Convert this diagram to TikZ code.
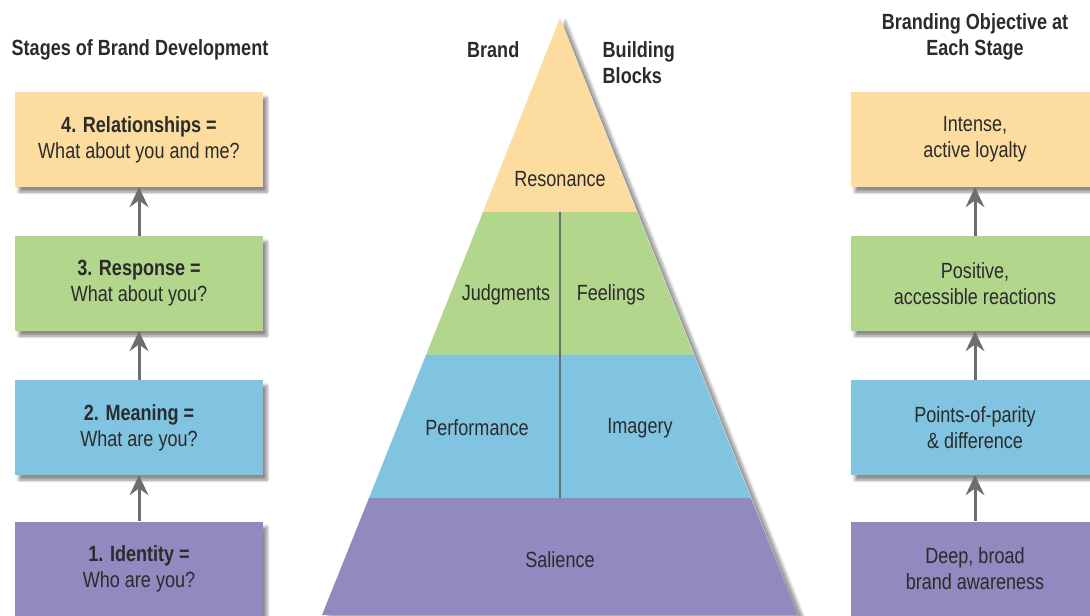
\documentclass[tikz,border=0pt]{standalone}
\usepackage{fontspec}
\setmainfont[FakeStretch=0.82]{Liberation Sans}
\usepackage{tikz}
\usetikzlibrary{arrows.meta,shadows.blur}
\definecolor{lvorange}{HTML}{FDDC9F}
\definecolor{lvgreen}{HTML}{B1D68C}
\definecolor{lvblue}{HTML}{80C4E2}
\definecolor{lvpurple}{HTML}{9189BF}
\definecolor{arrgray}{HTML}{6D6E70}
\definecolor{txtgray}{HTML}{2B2B2B}

\begin{document}
\begin{tikzpicture}
[x=0.75pt,y=-0.75pt,
every node/.style={text=txtgray,font=\fontsize{16.5}{19.5}\selectfont,align=center},
stage/.style={minimum width=186pt,minimum height=71pt,inner sep=0pt,
blur shadow={shadow xshift=3pt,shadow yshift=-4pt,shadow opacity=45,shadow blur steps=6}},
head/.style={font=\fontsize{16.5}{19.5}\selectfont\bfseries},
up/.style={draw=arrgray,line width=2.25pt,-{Stealth[length=15pt,width=14pt,inset=5pt]}}]
\useasboundingbox (0,0) rectangle (1090,615);
\clip (0,0) rectangle (1090,615);

% titles
\node[head] (tleft) at (140,50) {Stages of Brand Development};
\node[head,anchor=east] (tbrand) at (524,50) {Brand};
\node[head,anchor=north west,align=left] (tblocks) at (598,37) {Building\\Blocks};
\node[head] (tright) at (975,37) {Branding Objective at\\Each Stage};

% pyramid
\coordinate (top) at (560,18);
\coordinate (l1) at (483,212); \coordinate (r1) at (637,212);
\coordinate (l2) at (426,355); \coordinate (r2) at (694,355);
\coordinate (l3) at (369,498); \coordinate (r3) at (751,498);
\coordinate (l4) at (322,615); \coordinate (r4) at (798,615);
\fill[white,blur shadow={shadow xshift=4pt,shadow yshift=-2pt,shadow opacity=40,shadow blur steps=6}]
(top) -- (r4) -- (l4) -- cycle;
\fill[lvorange] (top) -- (r1) -- (l1) -- cycle;
\fill[lvgreen] (l1) -- (r1) -- (r2) -- (l2) -- cycle;
\fill[lvblue] (l2) -- (r2) -- (r3) -- (l3) -- cycle;
\fill[lvpurple] (l3) -- (r3) -- (r4) -- (l4) -- cycle;
\draw[arrgray,line width=0.8pt] (560,212) -- (560,498);
\node (reson) at (560,179) {Resonance};
\node (judg) at (506,295) {Judgments};
\node (feel) at (611,295) {Feelings};
\node (perf) at (477,428) {Performance};
\node (imag) at (640,428) {Imagery};
\node (sal) at (560,560) {Salience};

% stages
\node[stage,fill=lvpurple] (s1) at (139,569) {\textbf{1. Identity =}\\Who are you?};
\node[stage,fill=lvblue] (s2) at (139,427.5) {\textbf{2. Meaning =}\\What are you?};
\node[stage,fill=lvgreen] (s3) at (139,283.5) {\textbf{3. Response =}\\What about you?};
\node[stage,fill=lvorange] (s4) at (139,139.5) {\textbf{4. Relationships =}\\What about you and me?};

% objectives
\node[stage,fill=lvpurple] (o1) at (975,569) {Deep, broad\\brand awareness};
\node[stage,fill=lvblue] (o2) at (975,427.5) {Points-of-parity\\\& difference};
\node[stage,fill=lvgreen] (o3) at (975,283.5) {Positive,\\accessible reactions};
\node[stage,fill=lvorange] (o4) at (975,139.5) {Intense,\\active loyalty};

\draw[up] (s1) -- (s2);
\draw[up] (s2) -- (s3);
\draw[up] (s3) -- (s4);
\draw[up] (o1) -- (o2);
\draw[up] (o2) -- (o3);
\draw[up] (o3) -- (o4);
\end{tikzpicture}
\end{document}
